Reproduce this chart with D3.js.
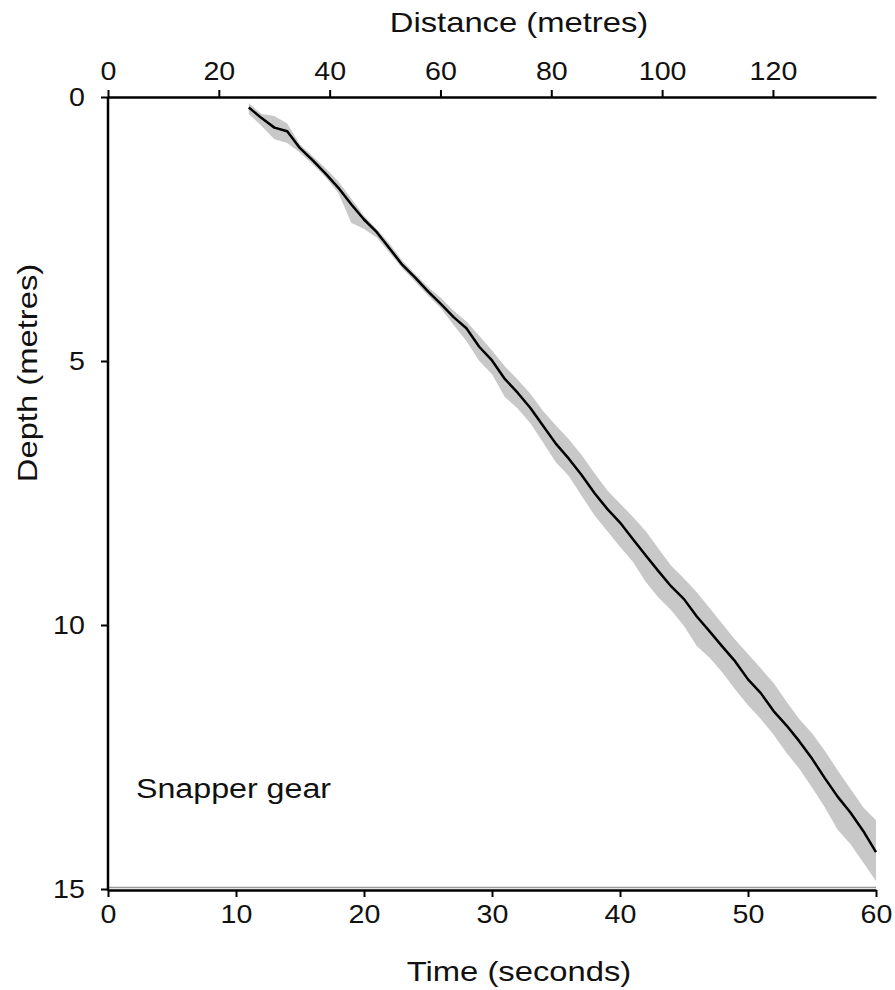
<!DOCTYPE html>
<html>
<head>
<meta charset="utf-8">
<script src="https://cdn.jsdelivr.net/npm/d3@7"></script>
<style>
  body { margin: 0; background: #fff; }
  text { font-family: "Liberation Sans", Arial, sans-serif; fill: #111; }
</style>
</head>
<body>
<div id="chart"></div>
<script>
// time (s) of each sample
const times = [11, 12, 13, 14, 15, 16, 17, 18, 19, 20,
  21, 22, 23, 24, 25, 26, 27, 28, 29, 30,
  31, 32, 33, 34, 35, 36, 37, 38, 39, 40,
  41, 42, 43, 44, 45, 46, 47, 48, 49, 50,
  51, 52, 53, 54, 55, 56, 57, 58, 59, 60];
// mean depth (m)
const meanDepth = [0.2, 0.4, 0.58, 0.65, 0.97, 1.2, 1.45, 1.72, 2.03, 2.32,
  2.56, 2.87, 3.18, 3.42, 3.68, 3.92, 4.17, 4.38, 4.73, 4.99,
  5.34, 5.6, 5.89, 6.23, 6.57, 6.85, 7.16, 7.5, 7.8, 8.06,
  8.37, 8.68, 8.98, 9.27, 9.51, 9.84, 10.12, 10.41, 10.69, 11.03,
  11.29, 11.63, 11.9, 12.2, 12.53, 12.9, 13.25, 13.55, 13.9, 14.3];
// shallow edge of grey band
const bandTop = [0.12, 0.32, 0.36, 0.5, 0.9, 1.12, 1.35, 1.6, 1.92, 2.25,
  2.5, 2.78, 3.1, 3.35, 3.6, 3.8, 4.05, 4.25, 4.52, 4.8,
  5.1, 5.35, 5.62, 5.95, 6.22, 6.48, 6.78, 7.12, 7.45, 7.7,
  7.95, 8.22, 8.55, 8.88, 9.12, 9.38, 9.68, 9.98, 10.28, 10.55,
  10.82, 11.1, 11.45, 11.78, 12.05, 12.38, 12.75, 13.1, 13.45, 13.7];
// deep edge of grey band
const bandBottom = [0.32, 0.55, 0.8, 0.87, 1.05, 1.28, 1.52, 1.82, 2.38, 2.5,
  2.66, 2.95, 3.25, 3.5, 3.76, 4.0, 4.32, 4.62, 5.0, 5.25,
  5.68, 5.9, 6.18, 6.55, 6.92, 7.18, 7.55, 7.92, 8.22, 8.52,
  8.8, 9.18, 9.48, 9.72, 10.02, 10.4, 10.62, 10.9, 11.22, 11.52,
  11.78, 12.08, 12.42, 12.72, 13.08, 13.45, 13.88, 14.15, 14.5, 14.85];

const timeTicks = [0, 10, 20, 30, 40, 50, 60];
const distTicks = [0, 20, 40, 60, 80, 100, 120];
const depthTicks = [0, 5, 10, 15];

const data = times.map((t, i) => ({
  t: t, d: meanDepth[i], lo: bandTop[i], hi: bandBottom[i]
}));

let width = 895, height = 990;
let margin = { top: 97, bottom: 101, left: 108, right: 19 };

let svg = d3.select('#chart')
  .append('svg')
  .attr('width', width)
  .attr('height', height);

let xScale = d3.scaleLinear()
  .domain([0, 60])
  .range([margin.left, width - margin.right]);

// distance scale on top (20 m spans ~111 px)
let distScale = d3.scaleLinear()
  .domain([0, 138.6])
  .range([margin.left, width - margin.right]);

let yScale = d3.scaleLinear()
  .domain([0, 15])
  .range([margin.top, height - margin.bottom]);

// grey band
svg.append('path')
  .datum(data)
  .attr('fill', '#c8c8c8')
  .attr('d', d3.area()
    .x(d => xScale(d.t))
    .y0(d => yScale(d.lo))
    .y1(d => yScale(d.hi)));

// mean line
svg.append('path')
  .datum(data)
  .attr('fill', 'none')
  .attr('stroke', '#000')
  .attr('stroke-width', 2.5)
  .attr('stroke-linejoin', 'round')
  .attr('d', d3.line()
    .x(d => xScale(d.t))
    .y(d => yScale(d.d)));

function styleAxis(g) {
  g.select('.domain').attr('stroke', '#000').attr('stroke-width', 2.5);
  g.selectAll('.tick line').attr('stroke', '#000').attr('stroke-width', 2);
  g.selectAll('.tick text')
    .style('font-size', '26px')
    .attr('fill', '#111')
    .attr('transform', 'scale(1.1,1)');
}

// bottom axis, grey line just above it
svg.append('line')
  .attr('x1', margin.left).attr('x2', width - margin.right)
  .attr('y1', yScale(15) - 1.5).attr('y2', yScale(15) - 1.5)
  .attr('stroke', '#999').attr('stroke-width', 1.5);

let xAxis = svg.append('g')
  .attr('transform', `translate(0,${yScale(15) + 1})`)
  .call(d3.axisBottom(xScale).tickValues(timeTicks).tickSize(7).tickSizeOuter(0).tickPadding(8))
  .call(styleAxis);
xAxis.selectAll('.tick text').attr('dy', '0.71em');

let topAxis = svg.append('g')
  .attr('transform', `translate(0,${margin.top})`)
  .call(d3.axisTop(distScale).tickValues(distTicks).tickSize(7).tickSizeOuter(0).tickPadding(10))
  .call(styleAxis);

let yAxis = svg.append('g')
  .attr('transform', `translate(${margin.left},0)`)
  .call(d3.axisLeft(yScale).tickValues(depthTicks).tickSize(7).tickSizeOuter(0).tickPadding(14))
  .call(styleAxis);
yAxis.select('.domain').attr('d', `M0,${margin.top}V${yScale(15) + 2}`);

// axis labels
svg.append('text')
  .attr('transform', `translate(519,32) scale(1.17,1)`)
  .style('text-anchor', 'middle')
  .style('font-size', '28px')
  .text('Distance (metres)');

svg.append('text')
  .attr('transform', `translate(519,981) scale(1.17,1)`)
  .style('text-anchor', 'middle')
  .style('font-size', '28px')
  .text('Time (seconds)');

svg.append('text')
  .attr('transform', `translate(37,373) rotate(-90) scale(1.17,1)`)
  .style('text-anchor', 'middle')
  .style('font-size', '28px')
  .text('Depth (metres)');

svg.append('text')
  .attr('transform', `translate(136,798) scale(1.15,1)`)
  .style('text-anchor', 'start')
  .style('font-size', '28px')
  .text('Snapper gear');
</script>
</body>
</html>
